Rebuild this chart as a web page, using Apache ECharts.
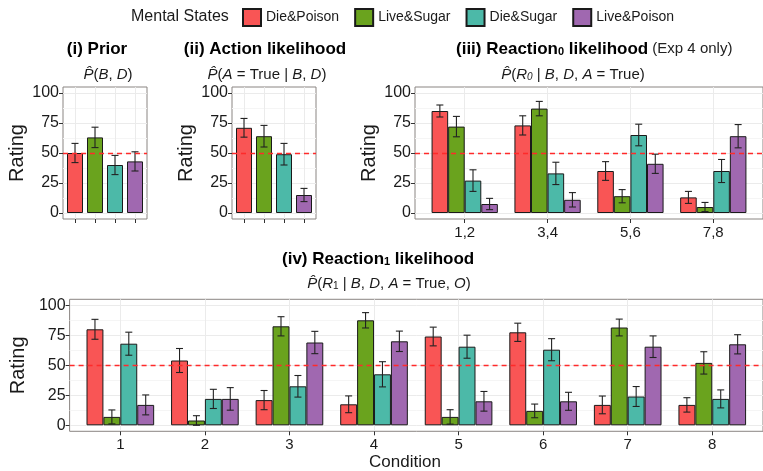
<!DOCTYPE html>
<html>
<head>
<meta charset="utf-8">
<title></title>
<script src="https://cdn.jsdelivr.net/npm/echarts@6/dist/echarts.min.js"></script>
<style>
    html, body { margin: 0; padding: 0; background: #fff; }
    #main { width: 763px; height: 471px; }
</style>
</head>
<body>
<div id="main"></div>
<script>
// mental states, one colour each
var states = ['Die&Poison', 'Live&Sugar', 'Die&Sugar', 'Live&Poison'];
var stateColors = ['#F95555', '#6AA31E', '#4CB9A8', '#A068B0'];

// (i) prior, (ii) action likelihood
var prior = [50, 63, 40, 43];
var priorErr = [8, 8.5, 8, 8];
var action = [71, 64, 49, 15];
var actionErr = [7.8, 9, 9, 5.5];

// (iii) reaction0, rows = states, cols = condition pairs
var r0Conds = ['1,2', '3,4', '5,6', '7,8'];
var r0 = [
    [85, 73, 35, 13],
    [72, 87, 14, 5],
    [27, 33, 65, 35],
    [7.5, 11, 41, 64]
];
var r0Err = [
    [5, 8, 7.8, 5],
    [8.5, 6, 5.5, 3.8],
    [9, 9.3, 9, 9.6],
    [4.7, 6, 8, 9.7]
];

// (iv) reaction1, rows = states, cols = conditions
var r1Conds = ['1', '2', '3', '4', '5', '6', '7', '8'];
var r1 = [
    [80, 54, 21, 17.5, 74, 77.5, 17, 17],
    [7, 4, 82.5, 87.5, 7, 12, 81.5, 52],
    [68, 22, 32.5, 42.5, 65.5, 63, 24, 22],
    [17, 22, 69, 70, 20, 20, 65.5, 67.5]
];
var r1Err = [
    [8.3, 10, 8, 7, 7.8, 7.6, 7.4, 6],
    [5.8, 4, 8, 6.4, 6, 5.7, 7, 9.3],
    [9.6, 8, 9, 10.5, 9.6, 9.2, 8.3, 7.5],
    [8.3, 9.4, 9.3, 8.5, 8.2, 7.5, 9, 8]
];

var yTicks = [0, 25, 50, 75, 100];
var yMinor = [12.5, 37.5, 62.5, 87.5];
var chance = 50;

var FONT = '"Liberation Sans", Arial, sans-serif';
var INK = '#1a1a1a';
var RED = '#FF2A2A';

var chart = echarts.init(document.getElementById('main'));

var gridBoxes = [
    {left: 63, top: 87, width: 84, height: 132},
    {left: 232, top: 87, width: 84, height: 132},
    {left: 415, top: 87, width: 357, height: 132},
    {left: 62.5, top: 299.3, width: 704, height: 132}
];
var grids = gridBoxes.map(function (g) {
    return {
        left: g.left, top: g.top, width: g.width, height: g.height,
        show: true, backgroundColor: '#fff', borderColor: '#8a8582', borderWidth: 1
    };
});

function xAxisFor(gi, labels, showLabels) {
    var pos = labels.map(function (_, i) { return i + 1; });
    return {
        type: 'value', gridIndex: gi, min: 0.4, max: labels.length + 0.6,
        axisLine: {show: false, onZero: false},
        axisTick: {show: true, length: 4, customValues: pos, lineStyle: {color: '#333'}},
        axisLabel: {
            show: showLabels, customValues: pos, margin: 6,
            fontSize: 15, color: INK, fontFamily: FONT,
            formatter: function (v) { return labels[Math.round(v) - 1]; }
        },
        splitLine: {show: true, lineStyle: {color: '#EBEBEB', width: 1}}
    };
}

var xAxes = [
    xAxisFor(0, states, false),
    xAxisFor(1, states, false),
    xAxisFor(2, r0Conds, true),
    xAxisFor(3, r1Conds, true)
];

var yAxes = [];
gridBoxes.forEach(function (g, gi) {
    yAxes.push({
        type: 'value', gridIndex: gi, min: -5, max: 105,
        name: 'Rating', nameLocation: 'middle', nameGap: 36,
        nameTextStyle: {fontSize: 20, color: INK, fontFamily: FONT},
        axisLine: {show: false},
        axisTick: {show: true, length: 4, customValues: yTicks, lineStyle: {color: '#333'}},
        axisLabel: {customValues: yTicks, margin: 4, fontSize: 16, color: INK, fontFamily: FONT},
        splitLine: {show: true, lineStyle: {color: '#EBEBEB', width: 1}}
    });
    // second axis only for the minor grid lines
    yAxes.push({
        type: 'value', gridIndex: gi, min: -5, max: 105, position: 'left',
        axisLine: {show: false},
        axisTick: {show: false, customValues: yMinor},
        axisLabel: {show: false},
        splitLine: {show: true, lineStyle: {color: '#F5F5F5', width: 1}}
    });
});

var barStyle = {borderColor: INK, borderWidth: 1};

function errRender(nGroup) {
    return function (params, api) {
        var j = api.value(3);
        var off = nGroup > 1 ? (j - (nGroup - 1) / 2) * 0.8 / nGroup : 0;
        var x = api.value(0) + off;
        var m = api.value(1), e = api.value(2);
        var top = api.coord([x, m + e]);
        var bot = api.coord([x, m - e]);
        var cap = 3.5;
        var st = {stroke: '#222', lineWidth: 1.1};
        return {
            type: 'group',
            children: [
                {type: 'line', shape: {x1: top[0], y1: top[1], x2: bot[0], y2: bot[1]}, style: st},
                {type: 'line', shape: {x1: top[0] - cap, y1: top[1], x2: top[0] + cap, y2: top[1]}, style: st},
                {type: 'line', shape: {x1: bot[0] - cap, y1: bot[1], x2: bot[0] + cap, y2: bot[1]}, style: st}
            ]
        };
    };
}

// dashed horizontal reference line across the whole panel
function chanceSeries(gi) {
    return {
        type: 'custom', xAxisIndex: gi, yAxisIndex: gi * 2, z: 6, silent: true,
        encode: {x: 0, y: 1},
        data: [[1, chance]],
        renderItem: function (params, api) {
            var cs = params.coordSys;
            var y = Math.round(api.coord([api.value(0), api.value(1)])[1]) + 0.5;
            return {
                type: 'line',
                shape: {x1: cs.x, y1: y, x2: cs.x + cs.width, y2: y},
                style: {stroke: RED, lineWidth: 1.3, lineDash: [5, 4]}
            };
        }
    };
}

var series = [];

// (i) and (ii): one bar per state
[[prior, priorErr], [action, actionErr]].forEach(function (d, gi) {
    series.push({
        name: gi === 0 ? 'prior' : 'action',
        type: 'bar', xAxisIndex: gi, yAxisIndex: gi * 2, barWidth: '80%',
        itemStyle: barStyle,
        data: d[0].map(function (v, i) {
            return {value: [i + 1, v], itemStyle: {color: stateColors[i]}};
        })
    });
    series.push({
        type: 'custom', xAxisIndex: gi, yAxisIndex: gi * 2, z: 5,
        renderItem: errRender(1),
        encode: {x: 0, y: 1},
        data: d[0].map(function (v, i) { return [i + 1, v, d[1][i], 0]; })
    });
    series.push(chanceSeries(gi));
});

// (iii) and (iv): grouped bars
[[r0, r0Err, 2], [r1, r1Err, 3]].forEach(function (d) {
    var gi = d[2];
    var errData = [];
    states.forEach(function (s, j) {
        series.push({
            name: s, type: 'bar', xAxisIndex: gi, yAxisIndex: gi * 2,
            barGap: '0%', barCategoryGap: '20%',
            itemStyle: {color: stateColors[j], borderColor: INK, borderWidth: 1},
            data: d[0][j].map(function (v, k) { return [k + 1, v]; })
        });
        d[0][j].forEach(function (v, k) { errData.push([k + 1, v, d[1][j][k], j]); });
    });
    series.push({
        type: 'custom', xAxisIndex: gi, yAxisIndex: gi * 2, z: 5,
        renderItem: errRender(states.length),
        encode: {x: 0, y: 1},
        data: errData
    });
    series.push(chanceSeries(gi));
});

var it = {fontStyle: 'italic', fontSize: 15, fontFamily: FONT, fill: INK};
var rm = {fontSize: 15, fontFamily: FONT, fill: INK};
var sb = {fontSize: 10, fontFamily: FONT, fill: INK, verticalAlign: 'bottom'};
var sbi = {fontSize: 10, fontStyle: 'italic', fontFamily: FONT, fill: INK, verticalAlign: 'bottom'};
var bd = {fontSize: 17, fontWeight: 'bold', fontFamily: FONT, fill: '#000'};
var bdSub = {fontSize: 11, fontWeight: 'bold', fontFamily: FONT, fill: '#000', verticalAlign: 'bottom'};
var nm = {fontSize: 15, fontFamily: FONT, fill: '#222'};

function txt(x, y, text, rich, align) {
    return {
        type: 'text', x: x, y: y, silent: true,
        style: {text: text, rich: rich, align: align || 'center', verticalAlign: 'middle'}
    };
}

var option = {
    animation: false,
    grid: grids,
    xAxis: xAxes,
    yAxis: yAxes,
    legend: {
        data: states, left: 242, top: 8, padding: 0, icon: 'rect',
        itemWidth: 18, itemHeight: 17, itemGap: 15,
        textStyle: {fontSize: 14, color: INK, fontFamily: FONT}
    },
    graphic: [
        txt(131, 17, '{a|Mental States}', {a: {fontSize: 16, fontFamily: FONT, fill: INK}}, 'left'),
        txt(97, 49, '{b|(i) Prior}', {b: bd}),
        txt(265, 49, '{b|(ii) Action likelihood}', {b: bd}),
        txt(456, 49, '{b|(iii) Reaction}{s|0}{b| likelihood}{n| (Exp 4 only)}', {b: bd, s: bdSub, n: nm}, 'left'),
        txt(282, 259, '{b|(iv) Reaction}{s|1}{b| likelihood}', {b: bd, s: bdSub}, 'left'),
        txt(108, 75, '{i|P\u0302}{r|(}{i|B}{r|, }{i|D}{r|)}', {i: it, r: rm}),
        txt(267, 75, '{i|P\u0302}{r|(}{i|A}{r| = True | }{i|B}{r|, }{i|D}{r|)}', {i: it, r: rm}),
        txt(573, 75, '{i|P\u0302}{r|(}{i|R}{s|0}{r| | }{i|B}{r|, }{i|D}{r|, }{i|A}{r| = True)}', {i: it, r: rm, s: sbi}),
        txt(389, 284, '{i|P\u0302}{r|(}{i|R}{s|1}{r| | }{i|B}{r|, }{i|D}{r|, }{i|A}{r| = True, }{i|O}{r|)}', {i: it, r: rm, s: sb}),
        txt(405, 462, '{c|Condition}', {c: {fontSize: 17, fontFamily: FONT, fill: INK}})
    ],
    series: series
};

chart.setOption(option);
</script>
</body>
</html>
